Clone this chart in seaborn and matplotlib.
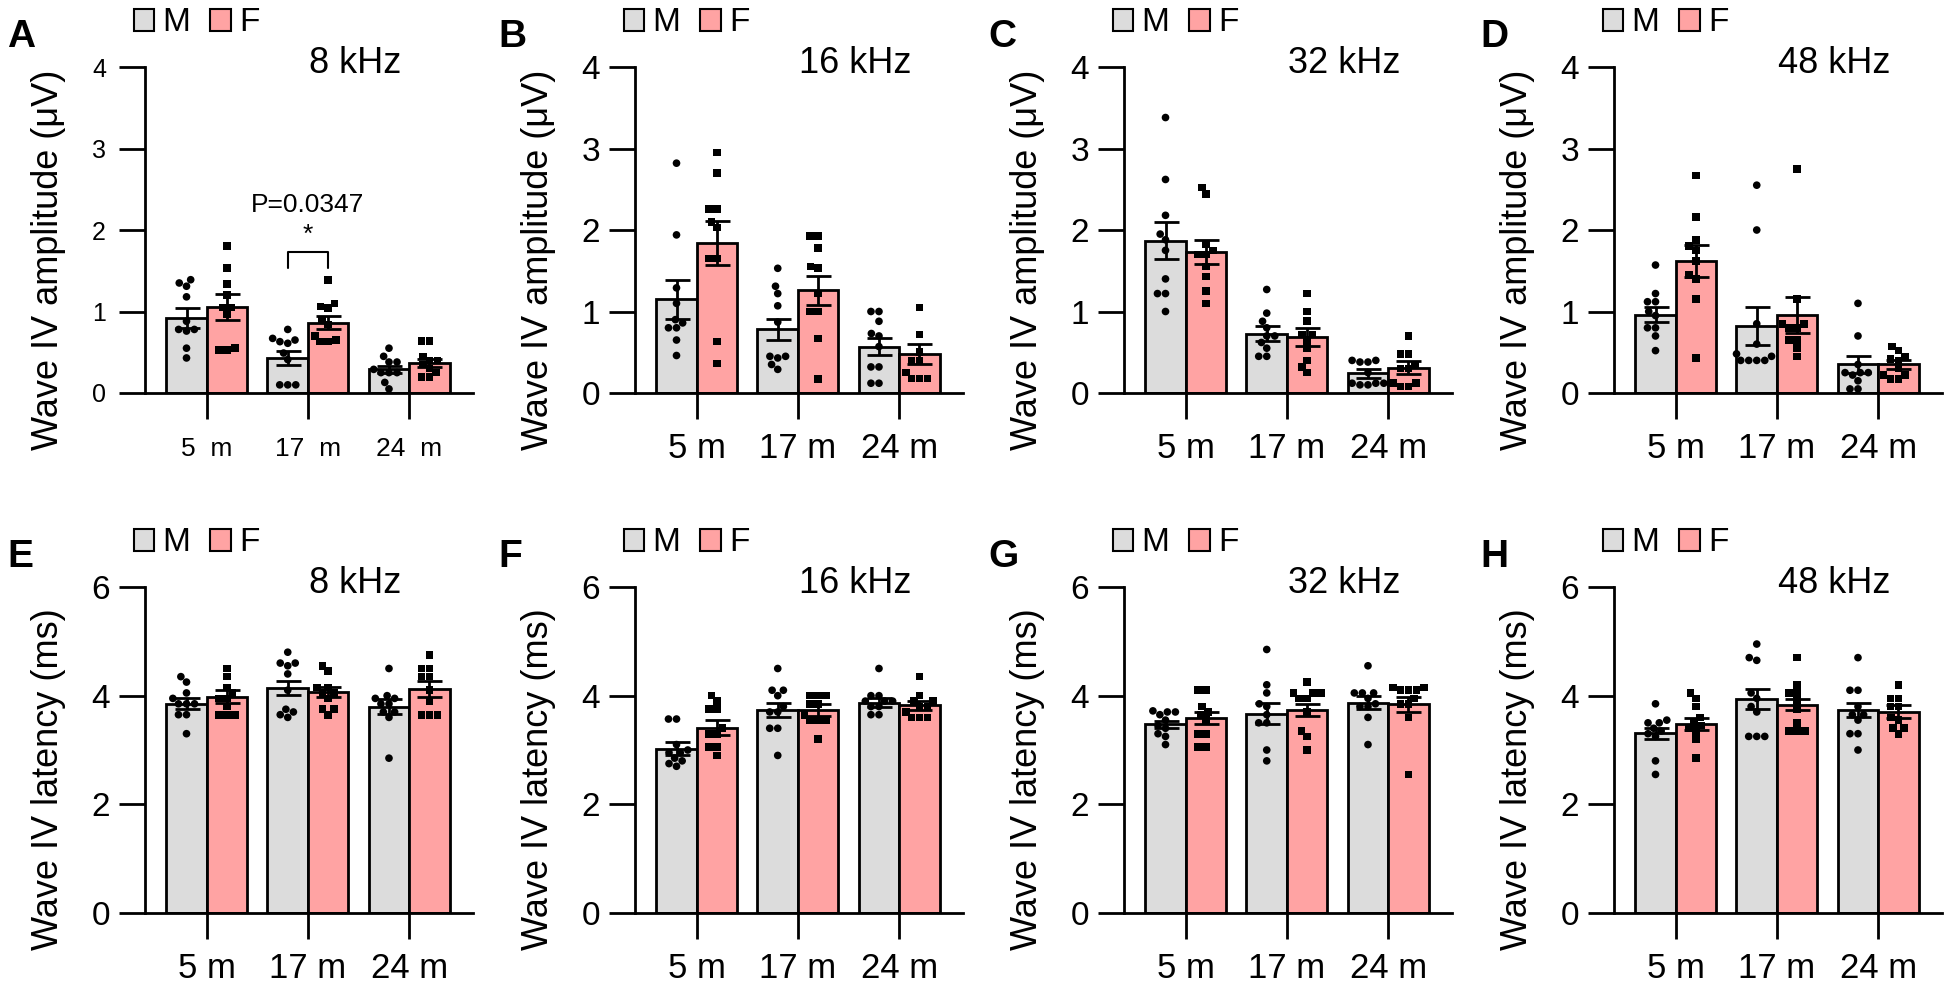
import pandas as pd
import matplotlib
matplotlib.use("Agg")
import matplotlib.pyplot as plt
from matplotlib.patches import Patch
import seaborn as sns

ages = ["5 m", "17 m", "24 m"]
ages_a = ["5  m", "17  m", "24  m"]  # panel A is typeset with wider spacing
sexes = ["M", "F"]
bar_colors = {"M": "#dcdcdc", "F": "#ffa3a3"}

# ---- wave IV amplitude (uV): bar = mean, whisker = SEM, dots = animals ----
amp8_mean_M = [0.92, 0.43, 0.29]
amp8_mean_F = [1.06, 0.86, 0.37]
amp8_sem_M = [0.12, 0.09, 0.04]
amp8_sem_F = [0.16, 0.08, 0.05]
amp8_pts_M = [[1.35, 1.39, 1.31, 1.18, 0.88, 0.78, 0.78, 0.76, 0.55, 0.43],
              [0.78, 0.63, 0.65, 0.61, 0.67, 0.49, 0.41, 0.10, 0.10, 0.10],
              [0.55, 0.45, 0.38, 0.38, 0.29, 0.25, 0.25, 0.25, 0.13, 0.05]]
amp8_pts_F = [[1.80, 1.53, 1.34, 1.20, 1.05, 1.05, 0.97, 0.55, 0.53, 0.53],
              [1.39, 1.06, 1.10, 1.04, 0.90, 0.84, 0.65, 0.63, 0.63, 0.70],
              [0.64, 0.64, 0.45, 0.40, 0.40, 0.35, 0.30, 0.25, 0.20, 0.20]]

amp16_mean_M = [1.15, 0.78, 0.57]
amp16_mean_F = [1.84, 1.26, 0.48]
amp16_sem_M = [0.24, 0.13, 0.10]
amp16_sem_F = [0.27, 0.18, 0.12]
amp16_pts_M = [[2.82, 1.94, 1.29, 1.10, 0.90, 0.86, 0.80, 0.80, 0.65, 0.46],
               [1.53, 1.31, 1.22, 1.07, 0.87, 0.45, 0.45, 0.43, 0.35, 0.29],
               [1.00, 1.00, 0.88, 0.73, 0.70, 0.57, 0.32, 0.32, 0.12, 0.12]]
amp16_pts_F = [[2.95, 2.70, 2.26, 2.26, 2.10, 2.03, 1.65, 1.65, 0.63, 0.36],
               [1.93, 1.93, 1.78, 1.55, 1.53, 1.22, 1.00, 1.00, 0.67, 0.17],
               [1.05, 0.72, 0.50, 0.40, 0.40, 0.25, 0.18, 0.18, 0.18]]

amp32_mean_M = [1.87, 0.73, 0.24]
amp32_mean_F = [1.73, 0.69, 0.31]
amp32_sem_M = [0.23, 0.09, 0.05]
amp32_sem_F = [0.15, 0.11, 0.08]
amp32_pts_M = [[3.38, 2.62, 2.18, 1.95, 1.88, 1.75, 1.40, 1.22, 1.22, 1.00],
               [1.27, 0.98, 0.88, 0.80, 0.70, 0.70, 0.62, 0.55, 0.45, 0.45],
               [0.40, 0.40, 0.38, 0.38, 0.25, 0.12, 0.12, 0.12, 0.10, 0.10]]
amp32_pts_F = [[2.52, 2.44, 1.82, 1.75, 1.70, 1.70, 1.55, 1.43, 1.25, 1.10],
               [1.22, 1.00, 0.88, 0.72, 0.72, 0.65, 0.55, 0.40, 0.32, 0.25],
               [0.70, 0.48, 0.48, 0.35, 0.30, 0.30, 0.12, 0.12, 0.08, 0.08]]

amp48_mean_M = [0.96, 0.82, 0.35]
amp48_mean_F = [1.62, 0.96, 0.35]
amp48_sem_M = [0.09, 0.23, 0.10]
amp48_sem_F = [0.20, 0.22, 0.06]
amp48_pts_M = [[1.57, 1.22, 1.12, 1.12, 1.00, 0.95, 0.80, 0.80, 0.70, 0.52],
               [2.55, 2.00, 0.85, 0.60, 0.45, 0.48, 0.40, 0.40, 0.40, 0.40],
               [1.10, 0.70, 0.35, 0.25, 0.25, 0.25, 0.22, 0.15, 0.05, 0.05]]
amp48_pts_F = [[2.67, 2.16, 1.88, 1.80, 1.75, 1.62, 1.45, 1.40, 1.15, 0.43],
               [2.75, 1.15, 0.85, 0.85, 0.80, 0.80, 0.65, 0.65, 0.55, 0.45],
               [0.57, 0.52, 0.45, 0.42, 0.40, 0.30, 0.22, 0.22, 0.17, 0.17]]

# ---- wave IV latency (ms) ----
lat8_mean_M = [3.85, 4.14, 3.80]
lat8_mean_F = [3.98, 4.07, 4.12]
lat8_sem_M = [0.10, 0.13, 0.14]
lat8_sem_F = [0.12, 0.09, 0.15]
lat8_pts_M = [[4.35, 4.25, 4.05, 3.95, 3.85, 3.85, 3.85, 3.65, 3.65, 3.30],
              [4.80, 4.60, 4.60, 4.55, 4.40, 4.10, 3.75, 3.70, 3.65, 3.60],
              [4.50, 4.00, 3.95, 3.95, 3.85, 3.85, 3.70, 3.70, 3.60, 2.85]]
lat8_pts_F = [[4.50, 4.35, 4.15, 4.05, 3.95, 3.95, 3.80, 3.65, 3.65, 3.65],
              [4.55, 4.45, 4.15, 4.15, 4.05, 4.05, 3.95, 3.75, 3.75, 3.65],
              [4.75, 4.50, 4.50, 4.35, 4.35, 4.10, 3.90, 3.65, 3.65, 3.65]]

lat16_mean_M = [3.02, 3.73, 3.87]
lat16_mean_F = [3.41, 3.73, 3.82]
lat16_sem_M = [0.12, 0.13, 0.08]
lat16_sem_F = [0.14, 0.11, 0.09]
lat16_pts_M = [[3.57, 3.57, 3.10, 3.00, 2.95, 2.95, 2.85, 2.80, 2.75, 2.70],
               [4.50, 4.10, 4.10, 4.00, 3.80, 3.70, 3.70, 3.40, 3.40, 2.90],
               [4.50, 4.00, 4.00, 3.90, 3.90, 3.90, 3.80, 3.80, 3.65, 3.65]]
lat16_pts_F = [[4.00, 3.90, 3.75, 3.75, 3.40, 3.30, 3.30, 3.05, 3.05, 2.90],
               [4.00, 4.00, 4.00, 3.85, 3.85, 3.65, 3.55, 3.55, 3.55, 3.20],
               [4.35, 4.00, 3.90, 3.90, 3.80, 3.80, 3.70, 3.60, 3.60, 3.60]]

lat32_mean_M = [3.47, 3.67, 3.87]
lat32_mean_F = [3.59, 3.74, 3.84]
lat32_sem_M = [0.07, 0.19, 0.12]
lat32_sem_F = [0.11, 0.11, 0.14]
lat32_pts_M = [[3.72, 3.70, 3.70, 3.65, 3.55, 3.45, 3.40, 3.30, 3.25, 3.10],
               [4.85, 4.20, 3.80, 4.05, 3.85, 3.65, 3.50, 3.50, 3.00, 2.80],
               [4.55, 4.05, 4.05, 4.05, 3.95, 3.85, 3.80, 3.80, 3.60, 3.10]]
lat32_pts_F = [[4.10, 4.10, 3.80, 3.70, 3.65, 3.55, 3.30, 3.30, 3.05, 3.05],
               [4.25, 4.05, 4.05, 4.05, 3.95, 3.95, 3.70, 3.35, 3.25, 3.00],
               [4.15, 4.15, 4.10, 4.10, 4.10, 3.95, 3.85, 3.85, 3.60, 2.55]]

lat48_mean_M = [3.31, 3.94, 3.74]
lat48_mean_F = [3.47, 3.83, 3.70]
lat48_sem_M = [0.10, 0.19, 0.13]
lat48_sem_F = [0.11, 0.10, 0.12]
lat48_pts_M = [[3.85, 3.55, 3.50, 3.50, 3.40, 3.35, 3.30, 3.25, 2.80, 2.55],
               [4.95, 4.70, 4.65, 4.05, 3.95, 3.80, 3.70, 3.25, 3.25, 3.25],
               [4.70, 4.10, 4.10, 3.80, 3.65, 3.65, 3.55, 3.30, 3.30, 3.00]]
lat48_pts_F = [[4.05, 3.95, 3.80, 3.60, 3.50, 3.45, 3.40, 3.35, 3.20, 2.85],
               [4.70, 4.20, 4.05, 4.05, 3.90, 3.75, 3.50, 3.35, 3.35, 3.35],
               [4.20, 3.95, 3.95, 3.80, 3.80, 3.60, 3.55, 3.40, 3.40, 3.30]]

# significance mark in panel A (17 m, M vs F)
sig_label = "P=0.0347"
sig_y = [1.53, 1.73, 1.94, 2.31]  # leg bottom, bracket top, star, p-text

sns.set_style("ticks")
plt.rcParams["font.family"] = ["Liberation Sans", "DejaVu Sans"]
plt.rcParams["text.color"] = "black"
plt.rcParams["axes.labelcolor"] = "black"

fig = plt.figure(figsize=(19.5, 9.83), dpi=100)
W, H = 1950.0, 983.0
lefts = [145, 635, 1124, 1614]
ax_w, ax_h = 328, 326


def draw(ax, letter, freq, ylabel, ymax, yticks, mm, mf, sm, sf, pm, pf, small=False):
    bars = pd.DataFrame({"age": ages * 2, "sex": ["M"] * 3 + ["F"] * 3, "val": mm + mf})
    sns.barplot(data=bars, x="age", y="val", hue="sex", order=ages, hue_order=sexes,
                palette=bar_colors, saturation=1, edgecolor="black", linewidth=2,
                width=0.8, errorbar=None, legend=False, ax=ax, zorder=1)
    rows = []
    for sex, pts in (("M", pm), ("F", pf)):
        for age, vals in zip(ages, pts):
            for v in vals:
                rows.append((age, sex, v))
    df = pd.DataFrame(rows, columns=["age", "sex", "val"])
    for sex, mk, sz in (("M", "o", 5.5), ("F", "s", 5.5)):
        sns.swarmplot(data=df[df.sex == sex], x="age", y="val", hue="sex", order=ages,
                      hue_order=sexes, dodge=True, palette={"M": "black", "F": "black"},
                      marker=mk, size=sz, legend=False, ax=ax, zorder=3, warn_thresh=1)
    conts = list(ax.containers[:2])
    centers = []
    for cont, means, sems in zip(conts, (mm, mf), (sm, sf)):
        xs = [p.get_x() + p.get_width() / 2 for p in cont]
        centers.append(xs)
        ax.errorbar(xs, means, yerr=sems, fmt="none", ecolor="black", elinewidth=2,
                    capsize=9, capthick=2, zorder=4)

    ax.set_xlim(-0.61, 2.63)
    ax.set_ylim(0, ymax)
    ax.set_yticks(yticks)
    ax.set_xlabel("")
    sns.despine(ax=ax)
    for s in ("left", "bottom"):
        ax.spines[s].set_linewidth(2)
        ax.spines[s].set_color("black")
    ax.tick_params(axis="both", length=19, width=2, direction="out", color="black",
                   labelcolor="black")
    if small:
        ax.tick_params(axis="y", labelsize=18, pad=9)
        ax.tick_params(axis="x", labelsize=19, pad=13)
        ax.set_xticks(range(3), ages_a)
    else:
        ax.tick_params(axis="y", labelsize=24, pad=6)
        ax.tick_params(axis="x", labelsize=25, pad=9)
    ax.set_ylabel(ylabel, fontsize=26)
    ax.yaxis.set_label_coords(-0.24, 0.41)
    ax.text(0.5, 1.012, freq, transform=ax.transAxes, ha="left", va="center", fontsize=26)

    handles = [Patch(facecolor=bar_colors[s], edgecolor="black", linewidth=1.5, label=s)
               for s in sexes]
    ax.legend(handles=handles, ncol=2, loc="center left", bbox_to_anchor=(-0.035, 1.135),
              frameon=False, fontsize=24, handlelength=0.62, handleheight=0.62,
              handletextpad=0.25, columnspacing=0.6, borderpad=0, borderaxespad=0)
    return centers


panels = [
    ("A", "8 kHz", amp8_mean_M, amp8_mean_F, amp8_sem_M, amp8_sem_F, amp8_pts_M, amp8_pts_F),
    ("B", "16 kHz", amp16_mean_M, amp16_mean_F, amp16_sem_M, amp16_sem_F, amp16_pts_M, amp16_pts_F),
    ("C", "32 kHz", amp32_mean_M, amp32_mean_F, amp32_sem_M, amp32_sem_F, amp32_pts_M, amp32_pts_F),
    ("D", "48 kHz", amp48_mean_M, amp48_mean_F, amp48_sem_M, amp48_sem_F, amp48_pts_M, amp48_pts_F),
    ("E", "8 kHz", lat8_mean_M, lat8_mean_F, lat8_sem_M, lat8_sem_F, lat8_pts_M, lat8_pts_F),
    ("F", "16 kHz", lat16_mean_M, lat16_mean_F, lat16_sem_M, lat16_sem_F, lat16_pts_M, lat16_pts_F),
    ("G", "32 kHz", lat32_mean_M, lat32_mean_F, lat32_sem_M, lat32_sem_F, lat32_pts_M, lat32_pts_F),
    ("H", "48 kHz", lat48_mean_M, lat48_mean_F, lat48_sem_M, lat48_sem_F, lat48_pts_M, lat48_pts_F),
]
letter_x = [7, 498, 988, 1480]

for i, (letter, freq, mm, mf, sm, sf, pm, pf) in enumerate(panels):
    row, col = divmod(i, 4)
    zero_y = 393 if row == 0 else 913
    ax = fig.add_axes([lefts[col] / W, 1 - zero_y / H, ax_w / W, ax_h / H])
    if row == 0:
        centers = draw(ax, letter, freq, "Wave IV amplitude (\u03bcV)", 4, [0, 1, 2, 3, 4],
                       mm, mf, sm, sf, pm, pf, small=(i == 0))
    else:
        centers = draw(ax, letter, freq, "Wave IV latency (ms)", 6, [0, 2, 4, 6],
                       mm, mf, sm, sf, pm, pf)
    fig.text(letter_x[col] / W, 1 - (37 if row == 0 else 557) / H, letter,
             ha="left", va="center", fontsize=28, fontweight="bold")
    if i == 0:
        x0, x1 = centers[0][1], centers[1][1]
        ax.plot([x0, x0, x1, x1], [sig_y[0], sig_y[1], sig_y[1], sig_y[0]],
                color="black", lw=1.5, zorder=5)
        ax.text((x0 + x1) / 2, sig_y[2], "*", ha="center", va="center", fontsize=19)
        ax.text((x0 + x1) / 2, sig_y[3], sig_label, ha="center", va="center", fontsize=19)

fig.savefig("out.png", dpi=100)
